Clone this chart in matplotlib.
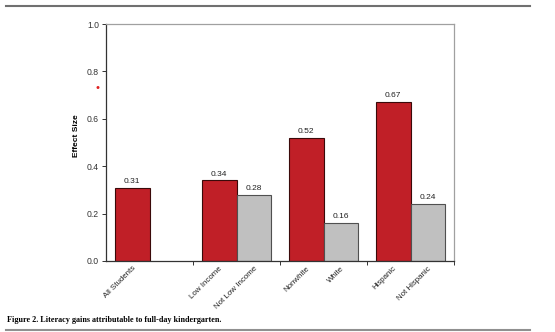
import numpy as np
import matplotlib
matplotlib.use('Agg')
from matplotlib import pyplot as plt

plt.rcParams['font.family'] = ['Liberation Sans', 'DejaVu Sans']

# dados
grupos = ['All Students', 'Income', 'Race', 'Ethnicity']
rotulos_vermelho = ['All Students', 'Low Income', 'Nonwhite', 'Hispanic']
rotulos_cinza = [None, 'Not Low Income', 'White', 'Not Hispanic']
valores_vermelho = [0.31, 0.34, 0.52, 0.67]
valores_cinza = [None, 0.28, 0.16, 0.24]
yticks = [0.0, 0.2, 0.4, 0.6, 0.8, 1.0]

vermelho = '#c01f27'
cinza = '#c0c0c0'

fig = plt.figure(figsize=(5.55, 3.32), dpi=100)
ax = fig.add_axes([106/555, 1-261/332, (454-106)/555, (261-24)/332])

x = np.arange(len(grupos))
larg = 0.4
xv = x + 0.3
ax.bar(xv, valores_vermelho, larg, color=vermelho, edgecolor='#3a0a0a', linewidth=0.8, zorder=2)

xc = []
vc = []
for i, v in enumerate(valores_cinza):
    if v is not None:
        xc.append(x[i] + 0.7)
        vc.append(v)
ax.bar(xc, vc, larg, color=cinza, edgecolor='#505050', linewidth=0.8, zorder=2)

for xi, v in zip(xv, valores_vermelho):
    ax.text(xi, v + 0.012, '%.2f' % v, ha='center', va='bottom', fontsize=6, color='#222222')
for xi, v in zip(xc, vc):
    ax.text(xi, v + 0.012, '%.2f' % v, ha='center', va='bottom', fontsize=6, color='#222222')

ax.set_xlim(0, 4)
ax.set_ylim(0, 1.0)
ax.set_yticks(yticks)
ax.set_yticklabels(['%.1f' % t for t in yticks], fontsize=6.2, color='#222222')
ax.tick_params(axis='y', length=3, width=0.7, pad=2, colors='#333333')

# ticks maiores nas fronteiras dos grupos, rotulos nos minor
ax.set_xticks([1, 2, 3, 4])
ax.set_xticklabels([])
ax.tick_params(axis='x', which='major', length=3, width=0.7, direction='out', colors='#333333')
pos_rot = []
txt_rot = []
for i in range(len(grupos)):
    pos_rot.append(xv[i])
    txt_rot.append(rotulos_vermelho[i])
    if rotulos_cinza[i] is not None:
        pos_rot.append(x[i] + 0.7)
        txt_rot.append(rotulos_cinza[i])
ax.set_xticks(pos_rot, minor=True)
ax.set_xticklabels(txt_rot, minor=True, rotation=45, ha='right', va='top',
                   rotation_mode='anchor', fontsize=5.7, color='#222222')
ax.tick_params(axis='x', which='minor', length=0, pad=3)

ax.spines['left'].set_color('#333333')
ax.spines['bottom'].set_color('#333333')
ax.spines['top'].set_color('#a0a0a0')
ax.spines['right'].set_color('#a0a0a0')
for s in ax.spines.values():
    s.set_linewidth(0.9)

fig.text(77/555, 1-136/332, 'Effect Size', rotation=90, ha='center', va='center',
         fontsize=6, fontweight='bold')
fig.text(97/555, 1-88/332, '•', ha='center', va='center', fontsize=8, color='#e02020')

fig.text(7/555, 1-320/332, 'Figure 2. Literacy gains attributable to full-day kindergarten.',
         ha='left', va='center', fontsize=5.85, fontweight='bold', family='Liberation Serif')

fig.add_artist(plt.Line2D([6/555, 530/555], [1-6/332, 1-6/332], color='#707070', linewidth=1.5))
fig.add_artist(plt.Line2D([6/555, 530/555], [1-330/332, 1-330/332], color='#909090', linewidth=1.5))

fig.savefig('out.png', dpi=100)
